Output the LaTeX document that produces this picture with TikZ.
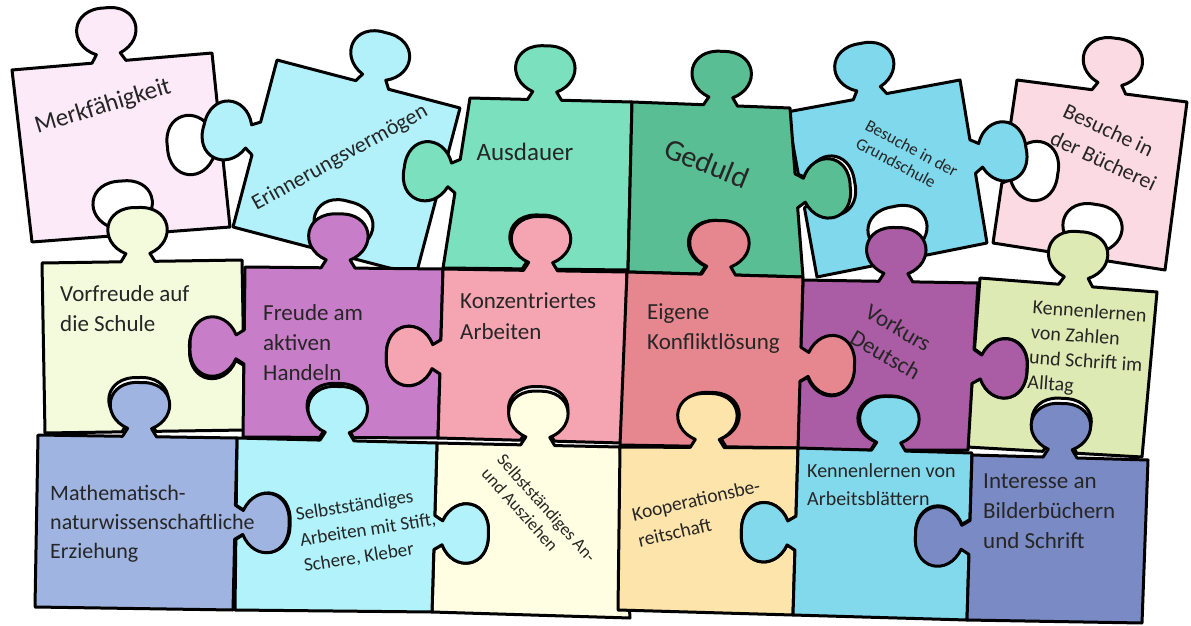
\documentclass[tikz,border=0pt]{standalone}
\usepackage{fontspec}
\setmainfont{Carlito}
\usetikzlibrary{calc}

% knob on the edge #1 -> #2, centred at fraction #3; #4 = 90 (tab out) or -90 (hole in)
\newcommand{\knob}[4]{%
  -- ($(#1)!#3!(#2)!-17pt!(#2)$)
  -- ($(#1)!#3!(#2)!-12pt!(#2)!-8pt!#4:(#2)$)
  .. controls ($(#1)!#3!(#2)!-40pt!(#2)!-20pt!#4:(#2)$) and ($(#1)!#3!(#2)!-34pt!(#2)!-56pt!#4:(#2)$) .. ($(#1)!#3!(#2)!-54pt!#4:(#2)$)
  .. controls ($(#1)!#3!(#2)!34pt!(#2)!-56pt!#4:(#2)$) and ($(#1)!#3!(#2)!40pt!(#2)!-20pt!#4:(#2)$) .. ($(#1)!#3!(#2)!12pt!(#2)!-8pt!#4:(#2)$)
  -- ($(#1)!#3!(#2)!17pt!(#2)$)
  -- (#2)}

\begin{document}
\begin{tikzpicture}[x=1pt,y=1pt,yscale=-1,xscale=1,
    piece/.style={draw=black, line width=3pt, line join=round},
    lbl/.style n args={2}{text=black!85, align=left, inner sep=0pt, font=\fontsize{#1}{#2}\selectfont}]
    \useasboundingbox (0,0) rectangle (1191,626);

    %Shape: Puzzle piece [Merkfaehigkeit]
    \coordinate (m1) at (12,70); \coordinate (m2) at (212,53); \coordinate (m3) at (230,227); \coordinate (m4) at (32,242);
    \draw [piece, fill={rgb, 255:red, 252; green, 234; blue, 248 }] (m1) \knob{m1}{m2}{0.485}{90} \knob{m2}{m3}{0.51}{-90} \knob{m3}{m4}{0.53}{-90} -- cycle ;
    %Shape: Puzzle piece [Erinnerungsvermoegen]
    \coordinate (e1) at (277,60); \coordinate (e2) at (460,108); \coordinate (e3) at (416,275); \coordinate (e4) at (233,227);
    \draw [piece, fill={rgb, 255:red, 178; green, 240; blue, 250 }] (e1) \knob{e1}{e2}{0.52}{90} -- (e3) \knob{e3}{e4}{0.44}{-90} \knob{e4}{e1}{0.53}{90} -- cycle ;
    %Shape: Puzzle piece [Ausdauer]
    \coordinate (a1) at (470,98); \coordinate (a2) at (632,102); \coordinate (a3) at (628,270); \coordinate (a4) at (443,268);
    \draw [piece, fill={rgb, 255:red, 122; green, 224; blue, 190 }] (a1) \knob{a1}{a2}{0.46}{90} -- (a3) \knob{a3}{a4}{0.48}{-90} \knob{a4}{a1}{0.54}{90} -- cycle ;
    %Shape: Puzzle piece [Buecherei]
    \coordinate (b1) at (1017,80); \coordinate (b2) at (1187,102); \coordinate (b3) at (1165,270); \coordinate (b4) at (993,243);
    \draw [piece, fill={rgb, 255:red, 252; green, 218; blue, 228 }] (b1) \knob{b1}{b2}{0.54}{90} -- (b3) \knob{b3}{b4}{0.45}{-90} \knob{b4}{b1}{0.47}{-90} -- cycle ;
    %Shape: Puzzle piece [Grundschule]
    \coordinate (s1) at (787,112); \coordinate (s2) at (960,80); \coordinate (s3) at (987,243); \coordinate (s4) at (817,277);
    \draw [piece, fill={rgb, 255:red, 128; green, 216; blue, 236 }] (s1) \knob{s1}{s2}{0.48}{90} \knob{s2}{s3}{0.47}{90} \knob{s3}{s4}{0.49}{-90} \knob{s4}{s1}{0.52}{-90} -- cycle ;
    %Shape: Puzzle piece [Geduld]
    \coordinate (g1) at (632,102); \coordinate (g2) at (790,108); \coordinate (g3) at (803,277); \coordinate (g4) at (628,272);
    \draw [piece, fill={rgb, 255:red, 90; green, 190; blue, 148 }] (g1) \knob{g1}{g2}{0.56}{90} \knob{g2}{g3}{0.49}{90} \knob{g3}{g4}{0.49}{-90} -- cycle ;

    %Shape: Puzzle piece [Vorfreude]
    \coordinate (v1) at (42,263); \coordinate (v2) at (242,260); \coordinate (v3) at (245,430); \coordinate (v4) at (45,433);
    \draw [piece, fill={rgb, 255:red, 244; green, 250; blue, 220 }] (v1) \knob{v1}{v2}{0.48}{90} \knob{v2}{v3}{0.52}{-90} \knob{v3}{v4}{0.53}{-90} -- cycle ;
    %Shape: Puzzle piece [Freude]
    \coordinate (f1) at (245,267); \coordinate (f2) at (443,269); \coordinate (f3) at (438,438); \coordinate (f4) at (243,437);
    \draw [piece, fill={rgb, 255:red, 200; green, 125; blue, 200 }] (f1) \knob{f1}{f2}{0.47}{90} \knob{f2}{f3}{0.52}{-90} \knob{f3}{f4}{0.52}{-90} \knob{f4}{f1}{0.53}{90} -- cycle ;
    %Shape: Puzzle piece [Konzentriertes]
    \coordinate (k1) at (443,269); \coordinate (k2) at (627,272); \coordinate (k3) at (622,443); \coordinate (k4) at (438,438);
    \draw [piece, fill={rgb, 255:red, 245; green, 165; blue, 178 }] (k1) \knob{k1}{k2}{0.53}{90} -- (k3) \knob{k3}{k4}{0.46}{-90} \knob{k4}{k1}{0.48}{90} -- cycle ;
    %Shape: Puzzle piece [Zahlen]
    \coordinate (z1) at (980,278); \coordinate (z2) at (1157,292); \coordinate (z3) at (1142,457); \coordinate (z4) at (967,447);
    \draw [piece, fill={rgb, 255:red, 222; green, 234; blue, 180 }] (z1) \knob{z1}{z2}{0.54}{90} -- (z3) \knob{z3}{z4}{0.47}{-90} \knob{z4}{z1}{0.48}{-90} -- cycle ;
    %Shape: Puzzle piece [Vorkurs]
    \coordinate (d1) at (803,280); \coordinate (d2) at (978,283); \coordinate (d3) at (968,450); \coordinate (d4) at (797,450);
    \draw [piece, fill={rgb, 255:red, 170; green, 92; blue, 164 }] (d1) \knob{d1}{d2}{0.53}{90} \knob{d2}{d3}{0.5}{90} \knob{d3}{d4}{0.47}{-90} \knob{d4}{d1}{0.5}{-90} -- cycle ;
    %Shape: Puzzle piece [Eigene]
    \coordinate (i1) at (627,272); \coordinate (i2) at (803,277); \coordinate (i3) at (798,448); \coordinate (i4) at (620,445);
    \draw [piece, fill={rgb, 255:red, 230; green, 134; blue, 142 }] (i1) \knob{i1}{i2}{0.52}{90} \knob{i2}{i3}{0.51}{90} \knob{i3}{i4}{0.5}{-90} -- cycle ;

    %Shape: Puzzle piece [An- und Ausziehen]
    \coordinate (n1) at (437,443); \coordinate (n2) at (620,447); \coordinate (n3) at (630,618); \coordinate (n4) at (432,612);
    \draw [piece, fill={rgb, 255:red, 255; green, 253; blue, 226 }] (n1) \knob{n1}{n2}{0.55}{90} -- (n3) -- (n4) \knob{n4}{n1}{0.47}{-90} -- cycle ;
    %Shape: Puzzle piece [Selbststaendiges Arbeiten]
    \coordinate (w1) at (237,438); \coordinate (w2) at (437,443); \coordinate (w3) at (432,612); \coordinate (w4) at (235,610);
    \draw [piece, fill={rgb, 255:red, 178; green, 242; blue, 250 }] (w1) \knob{w1}{w2}{0.5}{90} \knob{w2}{w3}{0.53}{90} -- (w4) \knob{w4}{w1}{0.51}{-90} -- cycle ;
    %Shape: Puzzle piece [Mathematisch]
    \coordinate (t1) at (38,435); \coordinate (t2) at (237,438); \coordinate (t3) at (233,610); \coordinate (t4) at (35,607);
    \draw [piece, fill={rgb, 255:red, 160; green, 180; blue, 226 }] (t1) \knob{t1}{t2}{0.51}{90} \knob{t2}{t3}{0.49}{90} -- (t4) -- cycle ;
    %Shape: Puzzle piece [Kooperation]
    \coordinate (c1) at (620,447); \coordinate (c2) at (798,448); \coordinate (c3) at (793,615); \coordinate (c4) at (618,610);
    \draw [piece, fill={rgb, 255:red, 252; green, 228; blue, 170 }] (c1) \knob{c1}{c2}{0.49}{90} \knob{c2}{c3}{0.51}{-90} -- (c4) -- cycle ;
    %Shape: Puzzle piece [Arbeitsblaetter]
    \coordinate (r1) at (798,448); \coordinate (r2) at (972,453); \coordinate (r3) at (967,620); \coordinate (r4) at (793,615);
    \draw [piece, fill={rgb, 255:red, 130; green, 217; blue, 236 }] (r1) \knob{r1}{r2}{0.52}{90} \knob{r2}{r3}{0.5}{-90} -- (r4) \knob{r4}{r1}{0.49}{90} -- cycle ;
    %Shape: Puzzle piece [Interesse]
    \coordinate (j1) at (972,455); \coordinate (j2) at (1148,460); \coordinate (j3) at (1142,623); \coordinate (j4) at (967,620);
    \draw [piece, fill={rgb, 255:red, 122; green, 138; blue, 196 }] (j1) \knob{j1}{j2}{0.5}{90} -- (j3) -- (j4) \knob{j4}{j1}{0.5}{90} -- cycle ;

    % Text Node
    \node [lbl={25}{30}, rotate=17] (tMerk) at (103,107) {Merkfähigkeit};
    % Text Node
    \node [lbl={22}{28}, rotate=29] (tErinn) at (340,158) {Erinnerungsvermögen};
    % Text Node
    \node [lbl={25}{30}] (tAusdauer) at (525,152) {Ausdauer};
    % Text Node
    \node [lbl={30}{34}, rotate=-22] (tGeduld) at (707,163) {Geduld};
    % Text Node
    \node [lbl={17}{20}, rotate=-28] (tGrund) at (907,157) {Besuche in der\\Grundschule};
    % Text Node
    \node [lbl={22}{30}, rotate=-25] (tBuech) at (1110,147) {Besuche in\\der Bücherei};
    % Text Node
    \node [lbl={23}{30}, anchor=west] (tVorfreude) at (60,309) {Vorfreude auf\\die Schule};
    % Text Node
    \node [lbl={23}{30}, anchor=west] (tFreude) at (263,343) {Freude am\\aktiven\\Handeln};
    % Text Node
    \node [lbl={23}{31}, anchor=west] (tKonz) at (460,316) {Konzentriertes\\Arbeiten};
    % Text Node
    \node [lbl={23}{30}, anchor=west] (tEigene) at (647,329) {Eigene\\Konfliktlösung};
    % Text Node
    \node [lbl={23}{30}, rotate=-30] (tVorkurs) at (893,342) {Vorkurs\\Deutsch};
    % Text Node
    \node [lbl={20}{25}, anchor=west, rotate=-4] (tZahlen) at (1030,346) {Kennenlernen\\von Zahlen\\und Schrift im\\Alltag};
    % Text Node
    \node [lbl={22}{29}, anchor=west] (tMathe) at (50,524) {Mathematisch-\\naturwissenschaftliche\\Erziehung};
    % Text Node
    \node [lbl={19}{26}, anchor=west, rotate=9] (tStift) at (300,541) {Selbstständiges\\Arbeiten mit Stift,\\Schere, Kleber};
    % Text Node
    \node [lbl={17.5}{21}, rotate=-48] (tAnzieh) at (539,515) {Selbstständiges An-\\und Ausziehen};
    % Text Node
    \node [lbl={19.5}{27}, rotate=13] (tKoop) at (699,513) {Kooperationsbe-\\reitschaft};
    % Text Node
    \node [lbl={20}{28}, anchor=west] (tBlatt) at (807,485) {Kennenlernen von\\Arbeitsblättern};
    % Text Node
    \node [lbl={23}{30}, anchor=west] (tInteresse) at (983,511) {Interesse an\\Bilderbüchern\\und Schrift};

\end{tikzpicture}
\end{document}
